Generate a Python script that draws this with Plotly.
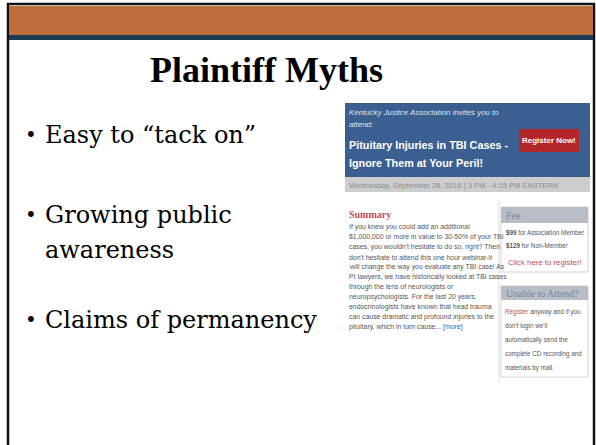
import plotly.graph_objects as go

W, H = 596, 445

title_text = "Plaintiff Myths"
bullet_lines = ["Easy to “tack on”", "Growing public", "awareness", "Claims of permanency"]
bullet_y = [135, 215, 250, 320]
bullet_has_dot = [True, True, False, True]

banner_lines = ["Kentucky Justice Association invites you to", "attend:"]
banner_title = ["Pituitary Injuries in TBI Cases -", "Ignore Them at Your Peril!"]
button_label = "Register Now!"
date_line = "Wednesday, September 28, 2016 | 3 PM - 4:15 PM EASTERN"

summary_head = "Summary"
summary_lines = [
    "If you knew you could add an additional",
    "$1,000,000 or more in value to 30-50% of your TBI",
    "cases, you wouldn't hesitate to do so, right? Then",
    "don't hesitate to attend this one hour webinar-it",
    "will change the way you evaluate any TBI case! As",
    "PI lawyers, we have historically looked at TBI cases",
    "through the lens of neurologists or",
    "neuropsychologists. For the last 20 years,",
    "endocrinologists have known that head trauma",
    "can cause dramatic and profound injuries to the",
    "pituitary, which in turn cause... <span style='color:#4a55c8'>[more]</span>",
]
fee_head = "Fee"
fee_lines = ["<b>$99</b> for Association Member", "<b>$129</b> for Non-Member"]
fee_link = "Click here to register!"
unable_head = "Unable to Attend?"
unable_lines = [
    "<span style='color:#c0504d'>Register</span> anyway and if you",
    "don't login we'll",
    "automatically send the",
    "complete CD recording and",
    "materials by mail.",
]
unable_y = [312, 326, 340, 354, 368]

SERIF = "Liberation Serif, serif"
BODY = "DejaVu Serif, serif"
NARROW = "Liberation Sans, Arial, sans-serif"

fig = go.Figure()
fig.add_trace(go.Scatter(x=[0, W], y=[0, H], mode="markers", marker=dict(opacity=0), hoverinfo="skip", showlegend=False))

shapes = []
def rect(x0, y0, x1, y1, fill, line=None, lw=0):
    shapes.append(dict(type="rect", xref="x", yref="y", x0=x0, y0=y0, x1=x1, y1=y1,
                       fillcolor=fill, line=dict(color=line or fill, width=lw), layer="below"))

# slide frame and header bands
rect(8, 4, 594, 450, "white", "#111111", 2.5)
rect(9, 6, 593, 35, "#BE6E3A")
rect(9, 35, 593, 40, "#1C3A52")
# webinar banner
rect(345, 103, 590, 177, "#3C5F92")
rect(519, 129, 579, 152, "#B3262A")
rect(345, 177, 590, 192, "#CDCDCD")
# fee box
rect(501, 207, 588, 272, "white", "#d4d4d4", 1)
rect(501, 207, 588, 223, "#B9BDC5")
rect(501, 286, 588, 377, "white", "#d4d4d4", 1)
rect(501, 286, 588, 300, "#B9BDC5")
shapes.append(dict(type="line", xref="x", yref="y", x0=499, x1=499, y0=200, y1=383,
                   line=dict(color="#dddddd", width=1), layer="below"))

ann = []
def txt(x, y, s, size, color="black", family=SERIF, xanchor="left"):
    ann.append(dict(x=x, y=y, xref="x", yref="y", text=s, showarrow=False, xanchor=xanchor,
                    yanchor="middle", font=dict(size=size, color=color, family=family)))

txt(266, 70, "<b>" + title_text + "</b>", 36, xanchor="center")
for s, y, dot in zip(bullet_lines, bullet_y, bullet_has_dot):
    if dot:
        txt(23, y, "•", 20, family=BODY)
    txt(43, y, s, 24, family=BODY)

txt(347, 112, "<i>" + banner_lines[0] + "</i>", 7.9, "#dfe6f0", NARROW)
txt(347, 124, "<i>" + banner_lines[1] + "</i>", 7.9, "#dfe6f0", NARROW)
txt(347, 145, "<b>" + banner_title[0] + "</b>", 10.8, "white", NARROW)
txt(347, 163, "<b>" + banner_title[1] + "</b>", 10.8, "white", NARROW)
txt(549, 140, "<b>" + button_label + "</b>", 8, "white", NARROW, "center")
txt(347, 185, date_line, 7.6, "#8c8c8c", NARROW)

txt(347, 214, "<b>" + summary_head + "</b>", 10, "#c0504d", SERIF)
for i, s in enumerate(summary_lines):
    txt(347, 227 + i * 10, s, 6.9, "#555555", NARROW)

txt(504, 215, fee_head, 10, "#7088aa", SERIF)
txt(504, 233, fee_lines[0], 6.3, "#555555", NARROW)
txt(504, 246, fee_lines[1], 6.3, "#555555", NARROW)
txt(545, 262, fee_link, 7.8, "#c0504d", NARROW, "center")
txt(504, 293, unable_head, 10, "#7088aa", SERIF)
for s, y in zip(unable_lines, unable_y):
    txt(503, y, s, 6.3, "#555555", NARROW)

fig.update_layout(
    width=W, height=H, margin=dict(l=0, r=0, t=0, b=0),
    paper_bgcolor="white", plot_bgcolor="white",
    xaxis=dict(range=[0, W], visible=False, fixedrange=True),
    yaxis=dict(range=[H, 0], visible=False, fixedrange=True),
    shapes=shapes, annotations=ann, showlegend=False,
)
fig.write_html("out.html", config={"displayModeBar": False},
               post_script="document.body.style.margin='0';document.body.style.padding='0';")
